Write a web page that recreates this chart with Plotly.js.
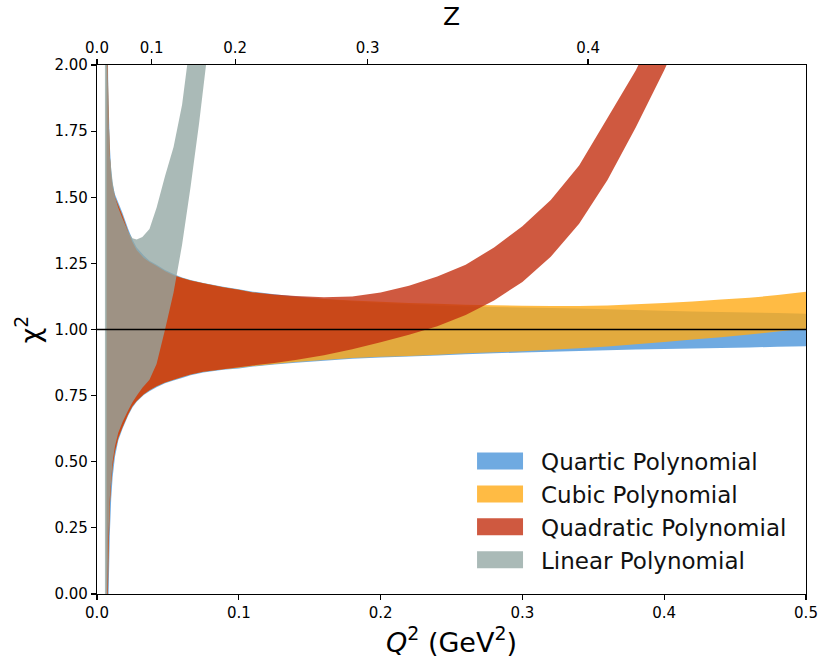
<!DOCTYPE html>
<html>
<head>
<meta charset="utf-8">
<script src="https://cdn.plot.ly/plotly-3.0.1.min.js"></script>
<style>
  body { margin: 0; background: #fff; }
  #chart { width: 830px; height: 669px; }
</style>
</head>
<body>
<div id="chart"></div>
<script>
// Q^2 sample points (GeV^2) shared by the polynomial fits
let q2Poly = [0.0068, 0.0075, 0.008, 0.009, 0.010, 0.011, 0.0127, 0.015, 0.018, 0.022,
  0.025, 0.028, 0.033, 0.037, 0.042, 0.048, 0.054, 0.06, 0.066, 0.075,
  0.089, 0.10, 0.11, 0.125, 0.14, 0.16, 0.18, 0.20, 0.22, 0.24,
  0.26, 0.28, 0.30, 0.32, 0.34, 0.36, 0.38, 0.40, 0.42, 0.44,
  0.46, 0.48, 0.50]

let quarticUpper = [2.5, 2.1, 1.9, 1.7, 1.6, 1.55, 1.51, 1.48, 1.44, 1.38,
  1.34, 1.31, 1.28, 1.26, 1.245, 1.225, 1.21, 1.197, 1.187, 1.176,
  1.162, 1.152, 1.143, 1.133, 1.125, 1.115, 1.107, 1.10, 1.095, 1.091,
  1.088, 1.085, 1.083, 1.081, 1.079, 1.077, 1.074, 1.071, 1.068, 1.066,
  1.064, 1.062, 1.06]
let quarticLower = [-0.8, -0.3, -0.05, 0.22, 0.36, 0.44, 0.52, 0.58, 0.625, 0.675,
  0.705, 0.727, 0.752, 0.767, 0.782, 0.797, 0.807, 0.817, 0.827, 0.837,
  0.848, 0.853, 0.86, 0.868, 0.874, 0.882, 0.889, 0.894, 0.898, 0.902,
  0.906, 0.91, 0.913, 0.916, 0.919, 0.922, 0.924, 0.926, 0.928, 0.930,
  0.932, 0.935, 0.937]

let cubicUpper = [2.4, 2.05, 1.85, 1.66, 1.58, 1.54, 1.50, 1.47, 1.43, 1.37,
  1.33, 1.30, 1.27, 1.255, 1.24, 1.22, 1.205, 1.195, 1.185, 1.175,
  1.16, 1.15, 1.14, 1.13, 1.122, 1.115, 1.11, 1.105, 1.10, 1.097,
  1.094, 1.092, 1.09, 1.089, 1.089, 1.091, 1.095, 1.10, 1.106, 1.113,
  1.12, 1.13, 1.143]
let cubicLower = [-0.6, -0.1, 0.12, 0.33, 0.42, 0.48, 0.54, 0.59, 0.63, 0.68,
  0.71, 0.73, 0.755, 0.77, 0.785, 0.80, 0.81, 0.82, 0.83, 0.84,
  0.85, 0.855, 0.862, 0.87, 0.877, 0.885, 0.892, 0.897, 0.90, 0.905,
  0.91, 0.914, 0.918, 0.923, 0.929, 0.936, 0.944, 0.953, 0.962, 0.971,
  0.981, 0.992, 1.003]

// quadratic leaves the frame near 0.4, so it stops at 0.42
let quadraticUpper = [2.4, 2.05, 1.85, 1.66, 1.58, 1.54, 1.50, 1.47, 1.43, 1.37,
  1.33, 1.30, 1.27, 1.255, 1.24, 1.22, 1.205, 1.195, 1.185, 1.175,
  1.16, 1.15, 1.14, 1.132, 1.127, 1.122, 1.125, 1.14, 1.165, 1.20,
  1.245, 1.31, 1.39, 1.49, 1.62, 1.80, 1.98, 2.2, 2.45]
let quadraticLower = [-0.6, -0.1, 0.12, 0.33, 0.42, 0.48, 0.54, 0.59, 0.63, 0.68,
  0.71, 0.73, 0.755, 0.77, 0.785, 0.80, 0.81, 0.82, 0.83, 0.84,
  0.85, 0.857, 0.864, 0.873, 0.885, 0.903, 0.925, 0.952, 0.98, 1.012,
  1.055, 1.11, 1.18, 1.275, 1.40, 1.565, 1.765, 1.98, 2.22]

// linear fit has its own points (starts a bit lower, leaves the frame early)
let q2Linear = [0.0056, 0.007, 0.008, 0.009, 0.011, 0.0127, 0.015, 0.018, 0.022, 0.025,
  0.028, 0.032, 0.037, 0.042, 0.048, 0.054, 0.06, 0.066, 0.072, 0.078]
let linearUpper = [3.0, 2.15, 1.85, 1.66, 1.56, 1.50, 1.46, 1.42, 1.37, 1.345,
  1.34, 1.35, 1.38, 1.46, 1.58, 1.69, 1.85, 2.1, 2.35, 2.6]
let linearLower = [-1.0, -0.1, 0.2, 0.36, 0.50, 0.56, 0.61, 0.65, 0.695, 0.725,
  0.75, 0.78, 0.81, 0.87, 1.0, 1.14, 1.32, 1.54, 1.78, 2.05]

let names = ['Quartic Polynomial', 'Cubic Polynomial', 'Quadratic Polynomial', 'Linear Polynomial']
let fills = ['rgba(75,149,217,0.8)', 'rgba(255,170,21,0.8)', 'rgba(195,47,16,0.8)', 'rgba(146,167,163,0.78)']

let zTicks = [0.0, 0.1, 0.2, 0.3, 0.4]
let refChi2 = 1.0

// conformal map z(Q^2) with t_cut = 4 m_pi^2, t0 = 0 -> inverse gives tick positions
let tcut = 4 * 0.13957 * 0.13957
let q2_from_z = function(z) {
  let r = (1 + z) / (1 - z)
  return tcut * (r * r - 1)
}

let band = function(xs, upper, lower, i) {
  let n = Math.min(xs.length, upper.length, lower.length)
  let x = xs.slice(0, n)
  return {
    x: x.concat(x.slice().reverse()),
    y: upper.slice(0, n).concat(lower.slice(0, n).reverse()),
    type: 'scatter',
    mode: 'none',
    fill: 'toself',
    fillcolor: fills[i],
    name: names[i],
    legendgroup: 'g' + i,
    hoverinfo: 'skip'
  }
}

let traces = [
  band(q2Poly, quarticUpper, quarticLower, 0),
  band(q2Poly, cubicUpper, cubicLower, 1),
  band(q2Poly, quadraticUpper, quadraticLower, 2),
  band(q2Linear, linearUpper, linearLower, 3),
  // empty trace so the top Z axis is laid out
  { x: [], y: [], xaxis: 'x2', type: 'scatter', showlegend: false, hoverinfo: 'skip' }
]

let fnt = 'DejaVu Sans, sans-serif'
let axisCommon = {
  showline: true, linecolor: '#000', linewidth: 1.2,
  ticks: 'outside', ticklen: 5, tickwidth: 1.2, tickcolor: '#000',
  showgrid: false, zeroline: false,
  tickfont: { family: fnt, size: 15, color: '#000' }
}

let layout = {
  width: 830, height: 669,
  margin: { l: 97, r: 24, t: 65, b: 75 },
  paper_bgcolor: '#fff', plot_bgcolor: '#fff',
  font: { family: fnt, color: '#000' },
  showlegend: true,
  legend: {
    x: 0.536, y: 0.292, xanchor: 'left', yanchor: 'top',
    bgcolor: 'rgba(0,0,0,0)', borderwidth: 0,
    font: { family: fnt, size: 23, color: '#111' },
    traceorder: 'grouped', tracegroupgap: 0, itemwidth: 54
  },
  xaxis: Object.assign({}, axisCommon, {
    range: [0, 0.5], tickvals: [0, 0.1, 0.2, 0.3, 0.4, 0.5], tickformat: '.1f',
    title: { text: '<i>Q</i><sup>2</sup> (GeV<sup>2</sup>)', font: { family: fnt, size: 27 }, standoff: 4 }
  }),
  xaxis2: Object.assign({}, axisCommon, {
    overlaying: 'x', side: 'top', range: [0, 0.5],
    tickmode: 'array', tickvals: zTicks.map(q2_from_z), ticktext: zTicks.map(z => z.toFixed(1)),
    title: { text: 'Z', font: { family: fnt, size: 25 }, standoff: 6 }
  }),
  yaxis: Object.assign({}, axisCommon, {
    range: [0, 2], dtick: 0.25, tickformat: '.2f', mirror: true,
    title: { text: '\u03c7<sup>2</sup>', font: { family: fnt, size: 27 }, standoff: 6 }
  }),
  shapes: [{
    type: 'line', xref: 'paper', x0: 0, x1: 1, yref: 'y', y0: refChi2, y1: refChi2,
    line: { color: '#000', width: 1.5 }, layer: 'above'
  }]
}

// matplotlib-like legend patches (46 x 17), leaving a wider gap before the text
let fixLegend = function() {
  document.querySelectorAll('#chart .legend .legendfill path').forEach(function(p) {
    p.setAttribute('d', 'M0,-8.5h46v17h-46z')
  })
}

Plotly.newPlot('chart', traces, layout, { displayModeBar: false, staticPlot: true }).then(function() {
  fixLegend()
  setTimeout(fixLegend, 30)
})
</script>
</body>
</html>
